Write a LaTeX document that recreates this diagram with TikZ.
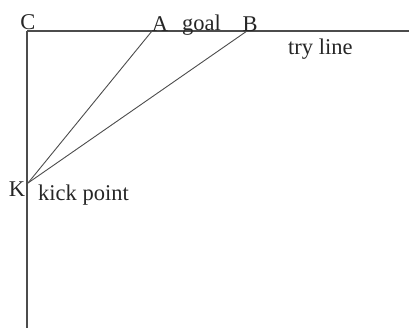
\documentclass[tikz,border=0pt]{standalone}
\usepackage{fontspec}
\setmainfont{Liberation Serif}
\begin{document}
\begin{tikzpicture}[x=1pt,y=-1pt,
  lbl/.style={inner sep=0pt,font=\fontsize{22.5}{25}\selectfont,text=black!85},
  axis/.style={draw=black!70,line width=1.6pt},
  ray/.style={draw=black!70,line width=0.9pt}]
\useasboundingbox (0,0) rectangle (409,328);
\coordinate (C) at (27,31);
\coordinate (E) at (409,31);
\coordinate (S) at (27,328);
\coordinate (A) at (152,31);
\coordinate (B) at (247,31);
\coordinate (K) at (28,183);
\draw[axis] (C) -- (E);
\draw[axis] (C) -- (S);
\draw[ray] (K) -- (A);
\draw[ray] (K) -- (B);
\node[lbl,anchor=base] (lc) at (28,30) {C};
\node[lbl,anchor=base] (la) at (160,32) {A};
\node[lbl,anchor=base west] (lg) at (182,31) {goal};
\node[lbl,anchor=base] (lb) at (250,32) {B};
\node[lbl,anchor=base west] (lt) at (288,55) {try line};
\node[lbl,anchor=base] (lk) at (17,197) {K};
\node[lbl,anchor=base west] (lkp) at (38,201) {kick point};
\end{tikzpicture}
\end{document}
